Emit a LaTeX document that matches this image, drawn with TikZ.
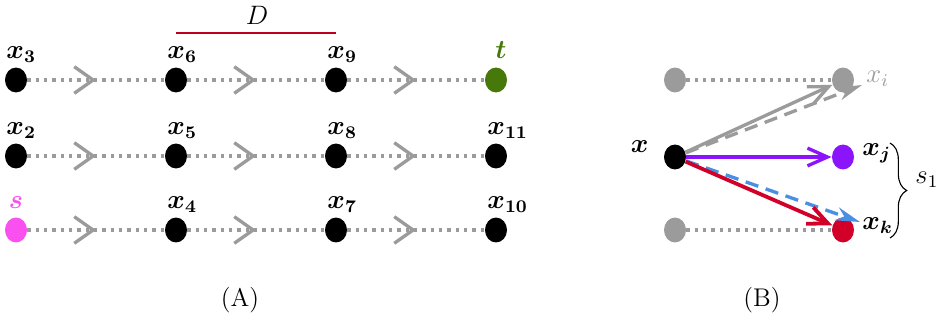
\documentclass[tikz,border=0pt]{standalone}
\usepackage{amsmath,bm}
\usetikzlibrary{arrows.meta,decorations.markings,decorations.pathreplacing,shapes.geometric}
\definecolor{cgray}{RGB}{155,155,155}
\definecolor{cpink}{RGB}{250,80,240}
\definecolor{cgreen}{RGB}{70,120,10}
\definecolor{cpurple}{RGB}{140,20,250}
\definecolor{cred}{RGB}{210,0,40}
\definecolor{cblue}{RGB}{74,144,226}
\definecolor{cdred}{RGB}{190,0,30}
\begin{document}
\begin{tikzpicture}[x=0.45pt,y=-0.45pt,
  every node/.style={font=\fontsize{11.5pt}{14pt}\selectfont},
  vdot/.style={ellipse, minimum width=9.9pt, minimum height=11.2pt, inner sep=0pt, draw=none, fill=#1},
  vdot/.default=black,
  dline/.style={draw=cgray, line width=1.6pt, dash pattern=on 1.5pt off 2.25pt},
  chev/.style={dline, postaction={decorate}, decoration={markings, mark=at position 0.5 with {\arrow[cgray]{Straight Barb[length=8.5pt,width=12pt,line width=1.5pt]}}}},
  lab/.style={anchor=base west, inner sep=0pt},
  barb/.style={-{Straight Barb[length=9pt,width=8pt]}},
  stl/.style={-{Stealth[length=11pt,width=6pt,inset=3.5pt]}},
  dsh/.style={dash pattern=on 6pt off 3.5pt}
]
\useasboundingbox (0,0) rectangle (938,322);

% Panel A nodes
\node[vdot] (x3) at (16,80) {};
\node[vdot] (x6) at (176,80) {};
\node[vdot] (x9) at (336,80) {};
\node[vdot=cgreen] (t) at (496,80) {};
\node[vdot] (x2) at (16,156) {};
\node[vdot] (x5) at (176,156) {};
\node[vdot] (x8) at (336,156) {};
\node[vdot] (x11) at (496,156) {};
\node[vdot=cpink] (s) at (16,230) {};
\node[vdot] (x4) at (176,230) {};
\node[vdot] (x7) at (336,230) {};
\node[vdot] (x10) at (496,230) {};

\foreach \a/\b in {x3/x6,x6/x9,x9/t,x2/x5,x5/x8,x8/x11,s/x4,x4/x7,x7/x10}
  \draw[chev] (\a) -- (\b);

% labels A
\node[lab] (lx3) at (6,58) {$\bm{x_3}$};
\node[lab] (lx6) at (167,58) {$\bm{x_6}$};
\node[lab] (lx9) at (327,58) {$\bm{x_9}$};
\node[anchor=base, inner sep=0pt, text=cgreen] (lt) at (501,58) {$\bm{t}$};
\node[lab] (lx2) at (6,134) {$\bm{x_2}$};
\node[lab] (lx5) at (167,134) {$\bm{x_5}$};
\node[lab] (lx8) at (327,134) {$\bm{x_8}$};
\node[lab] (lx11) at (487,134) {$\bm{x_{11}}$};
\node[anchor=base, inner sep=0pt, text=cpink] (ls) at (16,208) {$\bm{s}$};
\node[lab] (lx4) at (167,208) {$\bm{x_4}$};
\node[lab] (lx7) at (327,208) {$\bm{x_7}$};
\node[lab] (lx10) at (487,208) {$\bm{x_{10}}$};

% D marker
\coordinate (d1) at (176,33);
\coordinate (d2) at (336,33);
\draw[cdred, line width=0.5pt] (d1) -- (d2);
\node (D) at (257,15) {$D$};

\node (A) at (240,300) {(A)};
\node (B) at (762,300) {(B)};

% Panel B nodes
\node[vdot=cgray] (l1) at (675,80) {};
\node[vdot=cgray] (xi) at (843,80) {};
\node[vdot] (x) at (675,157) {};
\node[vdot=cpurple] (xj) at (843,157) {};
\node[vdot=cgray] (l3) at (675,230) {};
\node[vdot=cred] (xk) at (843,230) {};

\draw[dline] (l1) -- (xi);
\draw[dline] (l3) -- (xk);

\coordinate (gd) at (862,85);
\coordinate (bd) at (860,222);
\draw[cgray, line width=1.5pt, dsh, stl] (x) -- (gd);
\draw[cgray, line width=1.5pt, barb] (x) -- (xi);
\draw[cblue, line width=1.5pt, dsh, stl] (x) -- (bd);
\draw[cred, line width=1.7pt, barb] (x) -- (xk);
\draw[cpurple, line width=1.5pt, barb] (x) -- (xj);

% labels B
\node[anchor=base east, inner sep=0pt] (lx) at (649,152) {$\bm{x}$};
\node[lab, text=cgray] (lxi) at (866,82) {$x_i$};
\node[lab] (lxj) at (862,155) {$\bm{x_j}$};
\node[lab] (lxk) at (862,229) {$\bm{x_k}$};

\coordinate (b1) at (890,143);
\coordinate (b2) at (890,238);
\draw[decorate, decoration={brace, amplitude=7.5pt}, line width=0.5pt] (b1) -- (b2);
\node[lab] (ls1) at (915,183) {$s_1$};
\end{tikzpicture}
\end{document}
